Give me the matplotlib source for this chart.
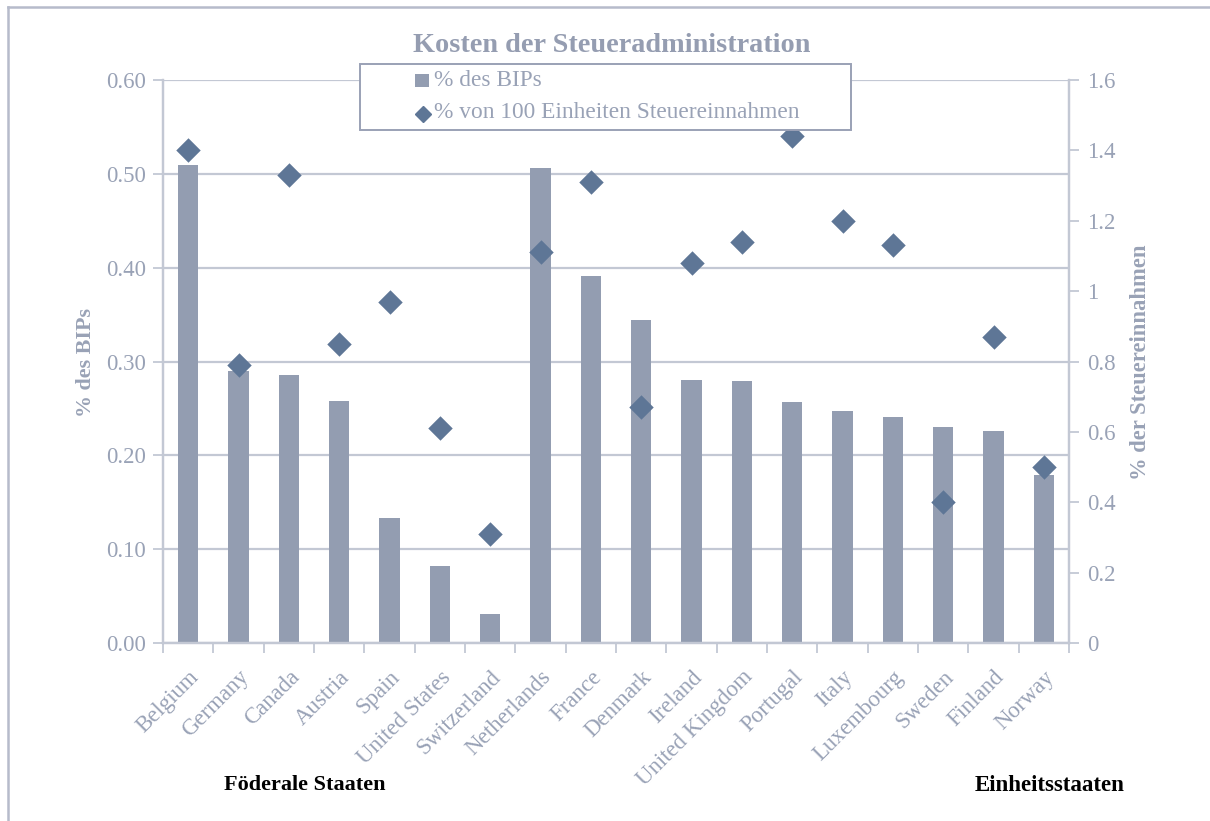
import matplotlib
matplotlib.use("Agg")
import matplotlib.pyplot as plt
from matplotlib.lines import Line2D
from matplotlib.patches import Rectangle
import numpy as np

countries = ["Belgium", "Germany", "Canada", "Austria", "Spain", "United States",
             "Switzerland", "Netherlands", "France", "Denmark", "Ireland",
             "United Kingdom", "Portugal", "Italy", "Luxembourg", "Sweden",
             "Finland", "Norway"]
pct_gdp = [0.509, 0.290, 0.286, 0.258, 0.133, 0.082, 0.031, 0.506, 0.391,
           0.344, 0.280, 0.279, 0.257, 0.247, 0.241, 0.230, 0.226, 0.179]
pct_tax = [1.40, 0.79, 1.33, 0.85, 0.97, 0.61, 0.31, 1.11, 1.31,
           0.67, 1.08, 1.14, 1.44, 1.20, 1.13, 0.40, 0.87, 0.50]
left_ticks = [0.0, 0.1, 0.2, 0.3, 0.4, 0.5, 0.6]
right_ticks = [0, 0.2, 0.4, 0.6, 0.8, 1.0, 1.2, 1.4, 1.6]
right_labels = ["0", "0.2", "0.4", "0.6", "0.8", "1", "1.2", "1.4", "1.6"]
legend_labels = ["% des BIPs", "% von 100 Einheiten Steuereinnahmen"]

FONT = "Liberation Serif"
plt.rcParams['font.family'] = [FONT, 'DejaVu Serif']
TXT = "#99A2B6"
GRID = "#C3C8D4"
BAR = "#939DB1"
DIA = "#5E7696"
BORDER = "#B6BBCB"

W, H = 1210, 821
fig = plt.figure(figsize=(W / 100, H / 100), dpi=100)
ax = fig.add_axes([163 / W, 1 - 643 / H, (1069 - 163) / W, (643 - 80) / H])
ax2 = ax.twinx()

def fx(px):
    return px / W

def fy(py):
    return 1 - py / H

x = np.arange(len(countries))
ax.bar(x, pct_gdp, width=0.4, color=BAR, zorder=2)
ax2.scatter(x, pct_tax, marker="D", s=155, color=DIA, zorder=3, linewidths=0)

ax.set_xlim(-0.5, len(countries) - 0.5)
ax.set_ylim(0, 0.6)
ax2.set_ylim(0, 1.6)
ax.set_yticks(left_ticks)
ax.set_yticklabels([f"{v:.2f}" for v in left_ticks])
ax2.set_yticks(right_ticks)
ax2.set_yticklabels(right_labels)
ax.set_xticks(x)
ax.set_xticklabels(countries, rotation=45, ha="right", rotation_mode="anchor")
ax.set_xticks(np.arange(-0.5, len(countries)), minor=True)
ax.tick_params(axis="x", which="major", length=0, pad=17, labelsize=16.5, labelcolor=TXT)
ax.tick_params(axis="x", which="minor", length=7, width=1.3, color=GRID, direction="out")
ax.tick_params(axis="y", length=7, width=1.3, color=GRID, labelsize=16.5, labelcolor=TXT, pad=5)
ax2.tick_params(axis="y", length=7, width=1.3, color=GRID, labelsize=16.5, labelcolor=TXT, pad=6)

ax.grid(axis="y", color=GRID, linewidth=1.6, zorder=0)
ax.set_axisbelow(True)
for a in (ax, ax2):
    a.spines["top"].set_visible(False)
    for s in ("left", "right", "bottom"):
        a.spines[s].set_color(GRID)
        a.spines[s].set_linewidth(1.6)

fig.text(fx(86), fy(362), "% des BIPs", rotation=90, ha="center", va="center",
         fontsize=15.8, fontweight="bold", color=TXT)
fig.text(fx(1141), fy(362), "% der Steuereinnahmen", rotation=90, ha="center", va="center",
         fontsize=16.3, fontweight="bold", color=TXT)

fig.text(fx(612), fy(46), "Kosten der Steueradministration", ha="center", va="center",
         fontsize=20.3, fontweight="bold", color="#959DB1")

# legend (drawn manually to match the original box layout)
fig.add_artist(Rectangle((fx(360), fy(130)), fx(851) - fx(360), fy(64) - fy(130),
                         transform=fig.transFigure, facecolor="white", edgecolor="#9AA1B6",
                         linewidth=1.4, zorder=5))
fig.add_artist(Rectangle((fx(415), fy(87)), fx(14), 13 / H, transform=fig.transFigure,
                         facecolor=BAR, edgecolor="none", zorder=6))
fig.add_artist(Line2D([fx(422.5)], [fy(114)], marker="D", markersize=8.2, color=DIA,
                      linestyle="none", transform=fig.transFigure, zorder=6))
fig.text(fx(434), fy(80), legend_labels[0], ha="left", va="center", fontsize=16.8,
         color=TXT, zorder=6)
fig.text(fx(434), fy(112), legend_labels[1], ha="left", va="center", fontsize=16.8,
         color=TXT, zorder=6)

fig.text(fx(305), fy(785), "Föderale Staaten", ha="center", va="center",
         fontsize=16, fontweight="bold", color="black")
fig.text(fx(1050), fy(785), "Einheitsstaaten", ha="center", va="center",
         fontsize=16.5, fontweight="bold", color="black")

fig.add_artist(Line2D([fx(8), 1], [fy(7), fy(7)], color=BORDER, linewidth=1.8,
                      transform=fig.transFigure))
fig.add_artist(Line2D([fx(8), fx(8)], [0, fy(7)], color=BORDER, linewidth=1.8,
                      transform=fig.transFigure))

fig.savefig("out.png", dpi=100)
